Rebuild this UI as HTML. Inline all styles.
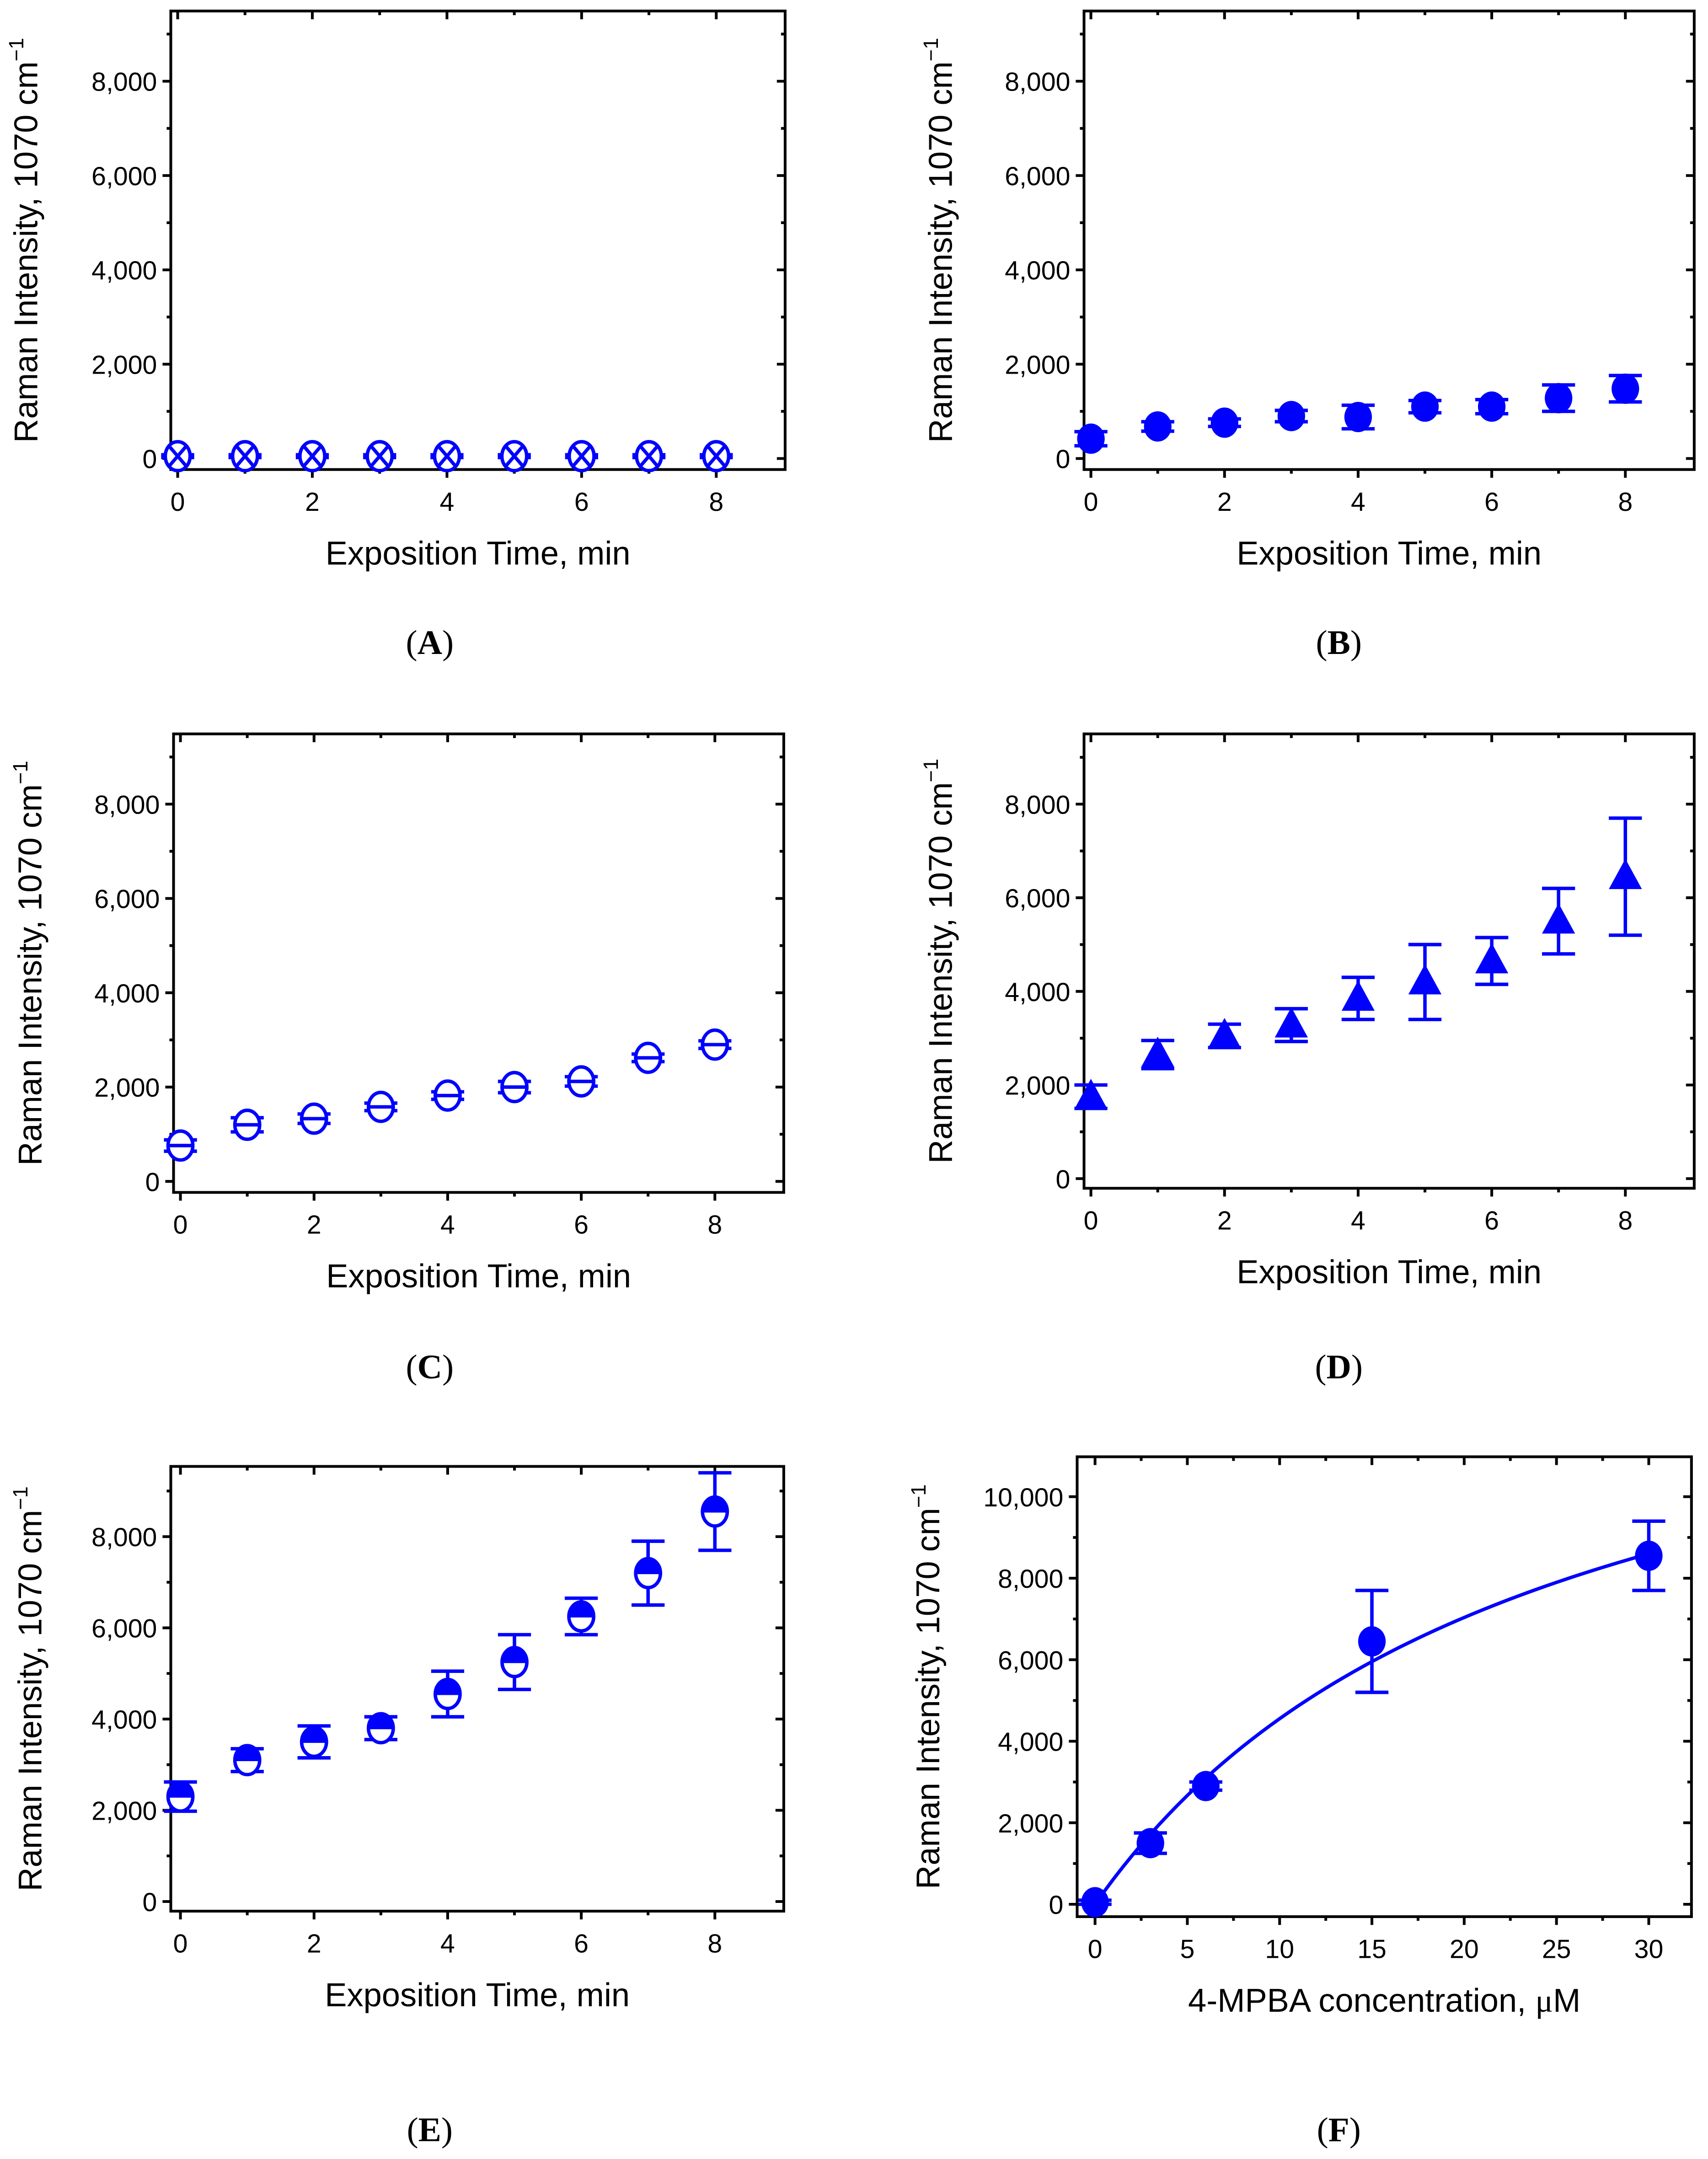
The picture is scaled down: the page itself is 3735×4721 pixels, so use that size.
<!DOCTYPE html>
<html><head><meta charset="utf-8"><style>
html,body{margin:0;padding:0;background:#fff;}
svg{display:block;}
</style></head><body>
<svg id="fig" width="3735" height="4721" viewBox="0 0 1240 1568" preserveAspectRatio="none" xmlns="http://www.w3.org/2000/svg" font-family="Liberation Sans, Arial, sans-serif"></svg>
<script>
// ---- data ----
const timeCats = [0,1,2,3,4,5,6,7,8];
const aVals = [50,50,50,50,50,50,50,50,50];
const aErr  = [30,30,30,30,30,30,30,30,30];
const bVals = [420,680,760,900,880,1100,1100,1280,1480];
const bErr  = [150,100,80,120,250,130,150,280,280];
const cVals = [760,1200,1330,1580,1820,2000,2120,2620,2900];
const cErr  = [120,150,100,80,80,120,100,80,80];
const dVals = [1750,2650,3050,3280,3850,4200,4650,5500,6450];
const dErr  = [250,300,250,350,450,800,500,700,1250];
const eVals = [2300,3100,3500,3800,4550,5250,6250,7200,8550];
const eErr  = [320,250,350,250,500,600,400,700,850];
const fConc = [0,3,6,15,30];
const fVals = [50,1500,2900,6450,8550];
const fErr  = [50,250,100,1250,850];
const timeTicks = [0,2,4,6,8];
const yTicks8 = [0,2000,4000,6000,8000];
const yTicks10 = [0,2000,4000,6000,8000,10000];
const concTicks = [0,5,10,15,20,25,30];

const NS="http://www.w3.org/2000/svg";
const svg=document.getElementById('fig');
const BLUE="#0000ff";
function el(tag,attrs,parent){const e=document.createElementNS(NS,tag);for(const k in attrs)e.setAttribute(k,attrs[k]);(parent||svg).appendChild(e);return e;}
function fmt(v){return v.toLocaleString('en-US');}

function panel(cfg){
  const g=el('g',{});
  
  
  const {L,R,T,B,x0,x0px,x1,x1px,y0px,yTop,yTopPx}=cfg;
  const sx=v=>x0px+(v-x0)*(x1px-x0px)/(x1-x0);
  const sy=v=>y0px-v*(y0px-yTopPx)/yTop;
  const frame=el('rect',{x:L,y:T,width:R-L,height:B-T,fill:'none',stroke:'#000','stroke-width':2},g);
  
  
  const ystep=cfg.yTicks[1]-cfg.yTicks[0];
  for(let v=0;v<=cfg.yMaxTick;v+=ystep/2){
    const major=(v%ystep===0);const len=major?6:3;const y=sy(v);
    if(y<T||y>B)continue;
    el('line',{x1:L-len,x2:L,y1:y,y2:y,stroke:'#000','stroke-width':2},g);
    el('line',{x1:R,x2:R-len,y1:y,y2:y,stroke:'#000','stroke-width':2},g);
  }
  cfg.yTicks.forEach(v=>{const t=el('text',{x:L-10,y:sy(v)+7,'text-anchor':'end','font-size':19},g);t.textContent=fmt(v);
    });
  const xstep=cfg.xTicks[1]-cfg.xTicks[0];
  for(let v=x0;v<=cfg.xTicks[cfg.xTicks.length-1]+0.001;v+=xstep/2){
    const major=Math.abs((v/xstep)-Math.round(v/xstep))<1e-6;const len=major?6:3;const x=sx(v);
    el('line',{x1:x,x2:x,y1:B,y2:B+len,stroke:'#000','stroke-width':2},g);
    el('line',{x1:x,x2:x,y1:T,y2:T+len,stroke:'#000','stroke-width':2},g);
  }
  cfg.xTicks.forEach(v=>{const t=el('text',{x:sx(v),y:B+30,'text-anchor':'middle','font-size':19},g);t.textContent=v;
    });
  const xt=el('text',{x:(L+R)/2,y:B+69,'text-anchor':'middle','font-size':24},g);
  xt.innerHTML=cfg.xTitle;
  
  const yc=(T+B)/2;
  const yt=el('text',{x:cfg.ytx,y:yc,'text-anchor':'middle','font-size':24,transform:`rotate(-90 ${cfg.ytx} ${yc})`},g);
  yt.innerHTML='Raman Intensity, 1070 cm<tspan dy="-10" font-size="15">\u22121</tspan>';
  
  if(cfg.curve){
    let d='';for(let i=0;i<=60;i++){const x=cfg.xs[cfg.xs.length-1]*i/60;const y=cfg.curve(x);d+=(i?'L':'M')+sx(x)+' '+sy(y);}
    const p=el('path',{d:d,fill:'none',stroke:BLUE,'stroke-width':2.5},g);
    
  }
  cfg.xs.forEach((xv,i)=>{
    const x=sx(xv),y=sy(cfg.vals[i]),yu=sy(cfg.vals[i]+cfg.err[i]),yl=sy(cfg.vals[i]-cfg.err[i]);
    const pg=el('g',{},g);
    
    el('line',{x1:x,x2:x,y1:yu,y2:yl,stroke:BLUE,'stroke-width':2.5},pg);
    el('line',{x1:x-12,x2:x+12,y1:yu,y2:yu,stroke:BLUE,'stroke-width':2.5},pg);
    el('line',{x1:x-12,x2:x+12,y1:yl,y2:yl,stroke:BLUE,'stroke-width':2.5},pg);
    const m=cfg.marker;
    if(m==='filled'){el('ellipse',{cx:x,cy:y,rx:10,ry:11,fill:BLUE},pg);}
    else if(m==='tri'){el('polygon',{points:`${x},${y-13} ${x-12},${y+9} ${x+12},${y+9}`,fill:BLUE},pg);}
    else{
      el('ellipse',{cx:x,cy:y,rx:9,ry:10.5,fill:'#fff',stroke:BLUE,'stroke-width':2.5},pg);
      if(m==='cross'){el('line',{x1:x-6,y1:y-7,x2:x+6,y2:y+7,stroke:BLUE,'stroke-width':2.5},pg);el('line',{x1:x+6,y1:y-7,x2:x-6,y2:y+7,stroke:BLUE,'stroke-width':2.5},pg);}
      if(m==='hline'){el('line',{x1:x-9,x2:x+9,y1:y,y2:y,stroke:BLUE,'stroke-width':2.5},pg);}
      if(m==='half'){el('path',{d:`M${x-9} ${y} A9 10.5 0 0 1 ${x+9} ${y} Z`,fill:BLUE,stroke:BLUE,'stroke-width':1.5},pg);}
    }
  });
  const lab=el('text',{x:cfg.labX,y:cfg.labY,'text-anchor':'middle','font-size':25,'font-family':'Liberation Serif, serif'},g);
  lab.innerHTML='(<tspan font-weight="bold">'+cfg.id+'</tspan>)';
  
}
const XT='Exposition Time, min';
const base={x0:0,x1:8,xTicks:timeTicks,yTicks:yTicks8,yTop:8000,yMaxTick:9000,xs:timeCats,xTitle:XT};
panel(Object.assign({},base,{id:'A',L:124,R:570,T:8,B:341,x0px:129,x1px:520,y0px:333,yTopPx:59,vals:aVals,err:aErr,marker:'cross',ytx:27,labX:312,labY:475}));
panel(Object.assign({},base,{id:'B',L:787,R:1230,T:8,B:341,x0px:792,x1px:1180,y0px:333,yTopPx:59,vals:bVals,err:bErr,marker:'filled',ytx:691,labX:972,labY:475}));
panel(Object.assign({},base,{id:'C',L:126,R:569,T:533,B:866,x0px:131,x1px:519,y0px:858,yTopPx:584,vals:cVals,err:cErr,marker:'hline',ytx:30,labX:312,labY:1001}));
panel(Object.assign({},base,{id:'D',L:787,R:1230,T:533,B:863,x0px:792,x1px:1180,y0px:856,yTopPx:584,vals:dVals,err:dErr,marker:'tri',ytx:691,labX:972,labY:1001}));
panel(Object.assign({},base,{id:'E',L:124,R:569,T:1065,B:1388,x0px:131,x1px:519,y0px:1381,yTopPx:1116,vals:eVals,err:eErr,marker:'half',ytx:30,labX:312,labY:1555}));
panel({id:'F',L:782,R:1228,T:1058,B:1392,x0:0,x1:30,x0px:795,x1px:1197,y0px:1383,yTop:10000,yTopPx:1087,yTicks:yTicks10,yMaxTick:10500,xTicks:concTicks,xs:fConc,vals:fVals,err:fErr,marker:'filled',ytx:682,labX:972,labY:1555,
  xTitle:'4-MPBA concentration, <tspan font-family="Liberation Serif, serif">\u03bc</tspan>M',curve:x=>15480*x/(24+x)});
</script>
</body></html>
